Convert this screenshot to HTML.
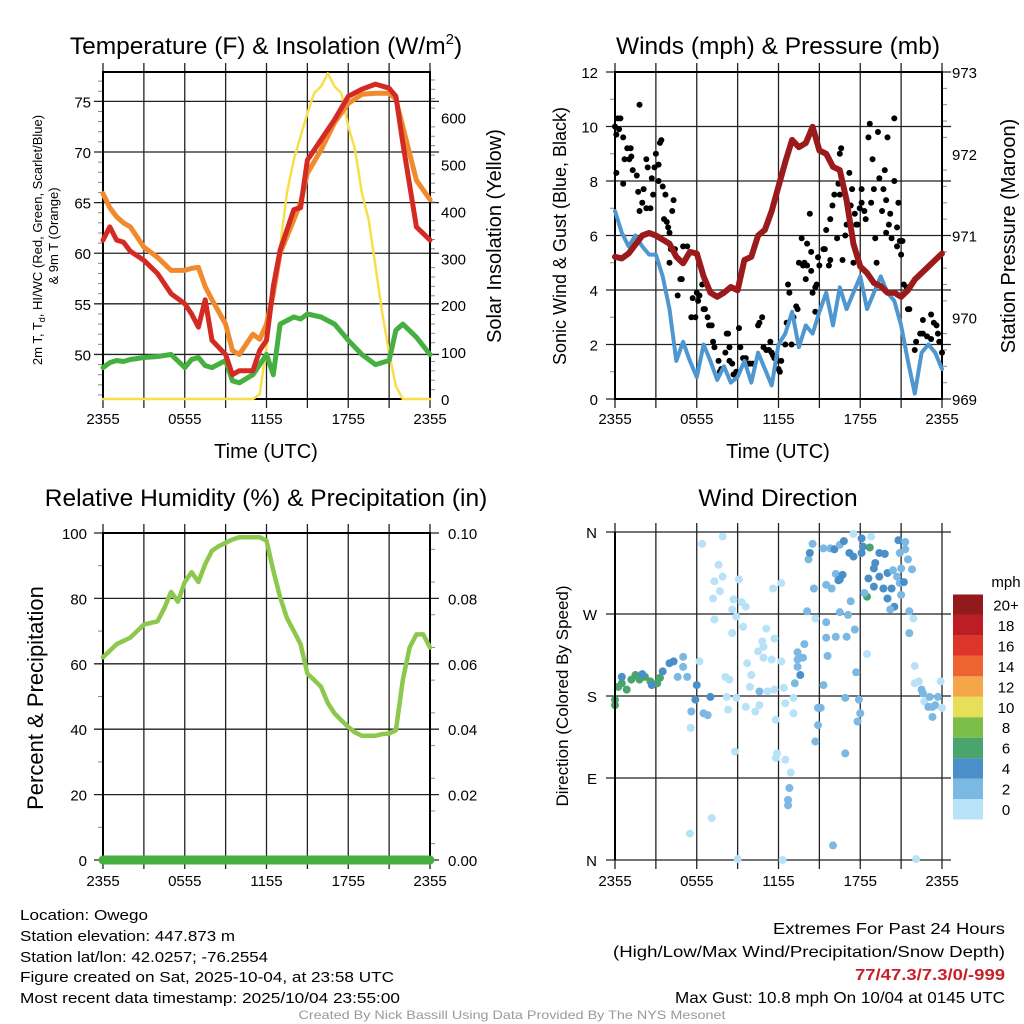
<!DOCTYPE html>
<html><head><meta charset="utf-8"><style>
html,body{margin:0;padding:0;background:#fff}
svg{display:block;font-family:"Liberation Sans",Arial,sans-serif}
</style></head><body>
<svg id="c" width="1024" height="1024" viewBox="0 0 1024 1024" xmlns="http://www.w3.org/2000/svg"></svg>
<script>
// ---------- DATA ----------
const xTickLabels = ["2355","0555","1155","1755","2355"];
const tHours = [0,0.5,1,1.5,2,3,4,5,6,6.5,7,7.5,8,9,9.5,10,11,11.5,12,12.5,13,14,14.5,15,16,17,18,19,20,21,21.5,22,23,24];
const tempRed = [61.3,62.6,61.3,61.1,60.2,59.3,58,56,55,54,52.7,55.4,51.4,50,48,48.4,48.4,50.4,51.4,56.7,60.3,64.3,64.5,69.2,71.2,73.2,75.5,76.2,76.7,76.3,75.5,70.9,62.6,61.3];
const tempOrange = [65.9,64.5,63.6,63,62.6,60.6,59.6,58.3,58.3,58.5,58.6,56.7,55.4,53,50.4,50,52,51.5,53,56,60,63.3,65,67.9,70.2,72.9,74.8,75.7,75.8,75.8,75.2,72.5,67.2,65.3];
const tempGreen = [48.7,49.2,49.4,49.3,49.5,49.7,49.8,50,48.7,49.5,49.7,48.9,48.7,49.4,47.4,47.2,48,49,50,48,53,53.7,53.5,54,53.7,53,51.4,50,49,49.4,52.4,53,51.7,50];
const solarHours = [0,11,11.5,12,12.5,13,13.5,14,14.5,15,15.5,16,16.5,17,17.5,18,18.5,19,19.5,20,20.5,21,21.5,22,24];
const solarVals = [0,0,10,112,226,325,439,510,560,609,652,666,694,666,652,581,531,439,382,283,183,98,27,0,0];
const windHours = [0,0.5,1,1.5,2,2.5,3,3.5,4,4.5,5,5.5,6,6.5,7,7.5,8,8.5,9,9.5,10,10.5,11,11.5,12,12.5,13,13.5,14,14.5,15,15.5,16,16.5,17,17.5,18,18.5,19,19.5,20,20.5,21,21.5,22,22.5,23,23.5,24];
const windVals = [6.9,6.1,5.6,6.0,5.6,5.3,5.3,4.5,3.3,1.4,2.1,1.4,0.8,2.0,1.4,0.7,1.2,0.6,0.8,1.4,0.6,1.7,1.1,0.5,2.0,2.4,3.2,1.9,2.7,2.4,3.2,3.9,2.7,4.1,3.3,3.9,4.5,3.3,3.9,4.5,3.9,3.6,2.7,1.4,0.2,1.7,2.0,1.7,1.1];
const gustH = [0,0.1,0.2,0.4,0.3,0.1,0.6,0.7,0.9,1.05,1.15,1.2,0.6,1.3,1.6,1.8,1.7,2,2.1,2.3,2.4,1.8,2.3,2.6,2.7,2.8,2.9,3,3.2,3.2,3.3,3.4,3.5,3.6,3.7,3.8,3.9,4,4.1,4.2,4.3,4.4,4,4.8,4.6,4.9,5,5.3,5.6,5.9,6,5.7,6.1,6.2,6.4,6.5,6.6,6.8,6.9,7.1,7.2,7.3,7.6,7.7,7.8,8.1,8.2,8.3,8.4,8.4,8.6,8.7,8.9,9.1,9.2,9.4,9.5,9.6,9.8,9.9,10.1,10.5,10.6,10.8,10.9,11.1,11.3,11.4,11.5,11.6,11.7,11.9,12,12.1,12.2,12.5,12.6,12.7,12.8,12.96,13.1,13.3,13.4,13.5,13.7,13.8,13.9,14.1,14,14.1,14.3,14.4,14.4,14.5,14.7,14.8,14.7,14.9,15,15.3,15.4,15.5,15.7,15.8,15.8,15.96,16.1,16.3,16.4,16.5,16.5,16.6,16.7,16.9,17,17.2,17.3,17.4,17.5,17.6,17.7,17.8,17.96,18.1,18.1,18.3,18.4,18.6,18.7,18.8,18.9,19,19.1,19.2,19.3,19.4,19.6,19.7,19.8,19.9,19.9,20,20.1,20.2,20.3,20.5,20.5,20.7,20.7,20.8,20.9,21,21.1,21.2,21.4,21.5,21.6,22,22.1,22.4,22.6,22.6,22.9,23.2,23.2,23.4,23.6,23.7,23.8,24];
const gustV = [10,9.7,10.3,10.3,9.9,8.3,9.6,8.8,9.2,8.8,9.2,8.9,7.9,8.4,8.2,10.8,7.6,7.2,7.7,8.8,8.5,6.9,7,7,8.1,7.5,8.5,9,8.6,8,9.4,9.5,7.8,6.6,7.5,6.5,6.3,6.1,5.5,6.9,7.3,5.5,5,4.4,3.8,4.4,5.6,5.6,3,3,3.9,3.7,3.6,3.8,4.2,3.3,3.3,3,2.7,2.7,2.1,1.9,1.4,1,1.1,1.7,2.4,2.4,1.9,1.4,1.3,0.9,1,2.6,1.9,1.5,1.3,1.5,1.3,1.3,1.3,2.7,2.8,3,1.9,1.8,1.8,2.1,1.7,1.6,1.5,1.4,1.1,1,1.4,2,2.8,4.2,3.9,2,3,3.4,3.3,5,5.9,4.9,5,5.7,4.4,4.9,6.8,5.4,4.7,3.9,4.1,4.2,3.2,5.2,4.9,5.5,5.5,6.2,4.9,6.6,5.1,7.1,7.5,5.9,7.9,7.5,9,9.2,5.1,6,6.4,8.3,7.1,7.7,5,6.8,6.4,6.4,7,7.7,7.2,6.9,6.6,9.6,10.1,7.2,8.8,7.7,5.9,5,9.8,8.1,6.9,7.7,8.4,7.3,6.1,9.6,6.4,6.8,5.9,8,10.3,5.6,6.3,7.2,5.8,5.3,5.8,4.2,4.1,3.3,3.3,1.8,2.1,2.4,2.9,2.4,2.3,3.1,2.2,2.8,2.7,2.4,2.1,1.7];
const presHours = [0,0.5,1,2,2.5,3,4,4.5,5,5.5,6,6.5,7,7.5,8,8.5,9,9.5,10,10.5,11,11.5,12,12.5,13,13.5,14,14.5,15,15.5,16,16.5,17,17.5,18,18.5,19,19.5,20,20.5,21,21.5,22,22.5,23,23.5,24];
const presVals = [970.74,970.72,970.78,971.0,971.03,971.0,970.9,970.74,970.66,970.8,970.78,970.5,970.3,970.25,970.3,970.37,970.33,970.7,970.74,971.0,971.07,971.3,971.6,971.9,972.17,972.08,972.13,972.33,972.04,972.0,971.84,971.8,971.43,970.9,970.62,970.54,970.42,970.38,970.3,970.3,970.25,970.33,970.46,970.54,970.62,970.7,970.78];
const rhHours = [0,0.5,1,2,3,4,4.5,5,5.5,6,6.5,7,7.5,8,8.5,9,9.5,10,11,11.5,12,12.5,13,13.5,14,14.5,15,15.5,16,16.5,17,17.5,18,18.5,19,20,20.5,21,21.5,22,22.5,23,23.5,24];
const rhVals = [62,64,66,68,72,73,77,82,79,85,88,85,90.5,94.6,96,97,98,98.7,98.7,98.7,97.7,88.5,80.4,74,70,66,57,55,53,48,44.8,42.7,40.7,39,38,38,38.5,38.7,39.7,55,65,69,69,65];
const precipHours = [0,24];
const precipVals = [0,0];
const dirH = [
 0,0,0.24,0.5,0.86,1.2,1.5,1.8,2.2,2.6,
 3.1,3.3,0.5,2.0,2.7,3.5,4.0,4.3,4.6,5.0,
 5.3,5.0,6.0,5.9,6.2,5.6,6.5,6.8,5.55,7.0,
 6.4,7.9,7.6,7.3,7.9,7.7,7.2,7.3,8.6,8.7,
 8.6,8.9,9.1,9.3,9.6,9.4,9.7,8.1,8.4,8.2,
 8.3,8.9,8.8,11.6,12.2,11.1,10.8,10.9,11.7,10.5,
 10.9,11.5,12.2,10.0,9.9,9.6,10.3,10.6,11.2,10.6,
 11.7,11.8,12.4,12.5,13.1,13.1,11.9,11.8,12.5,12.9,
 12.8,12.7,12.7,7.1,5.5,9.0,12.3,16.0,13.2,13.6,
 13.4,13.4,13.8,13.9,13.4,14.1,14.7,14.2,14.3,14.5,
 14.6,15.3,15.8,16.1,16.5,16.8,17.2,17.5,17.5,18.1,
 18.2,18.1,18.8,18.7,18.5,18.3,15.5,15.9,16.2,16.7,
 16.5,16.4,15.5,15.5,16.2,17.0,16.5,17.1,17.3,17.6,
 15.6,15.3,14.9,15.1,14.9,14.7,16.9,17.9,18.0,17.8,
 17.7,16.9,18.5,18.6,19.0,19.1,19.4,19.8,19.0,19.4,
 19.7,20.0,20.3,20.5,20.2,20.0,20.4,20.7,20.9,20.8,
 21.3,21.3,20.9,21.5,21.8,21.0,21.2,21.0,21.6,21.9,
 21.6,22.0,22.0,22.3,22.5,22.6,22.7,23.1,23.0,23.3,
 23.5,23.7,23.9,24.0,23.3,22.1];
const dirDeg = [
 170,176,190,194,187,198,203,198,201,196,
 194,200,201,204,192,207,216,218,201,223,
 201,212,192,176,218,163,161,159,145,179,
 347,355,324,306,311,295,287,264,249,286,
 275,267,308,283,278,256,216,201,198,179,
 165,178,119,298,304,254,240,234,243,229,
 222,220,218,203,190,168,163,170,185,185,
 187,154,189,172,161,178,117,112,110,96,
 79,66,60,46,29,1,0,16,194,203,
 220,228,222,237,212,273,265,330,337,347,
 298,342,342,341,346,350,337,333,358,353,
 344,337,355,343,289,293,302,298,314,313,
 308,307,261,244,245,245,272,269,284,253,
 224,192,167,167,148,130,178,176,161,152,
 206,117,226,309,320,326,337,336,300,311,
 298,287,298,278,275,315,318,311,304,351,
 349,341,337,330,319,320,305,291,273,265,
 249,213,194,196,187,183,174,179,168,168,
 170,179,196,167,157,1];
const dirSpd = [
 6,6,6,6,6,6,6,6,6,6,
 6,6,4,4,4,4,4,4,2,2,
 2,2,4,4,1,2,2,2,1,4,
 0,0,0,0,0,0,0,1,1,1,
 1,0,0,0,0,0,0,0,0,0,
 0,0,0,0,0,1,1,0,1,0,
 1,0,1,0,0,0,0,0,0,3,
 0,1,0,0,0,0,0,0,0,0,
 3,3,3,0,0,0,0,3,3,4,
 2,2,2,2,2,2,0,2,4,2,
 2,2,2,4,2,4,4,4,1,4,
 4,4,1,6,6,2,2,2,2,4,
 4,4,2,2,2,2,2,2,2,2,
 2,2,3,3,3,3,3,3,3,3,
 2,3,0,4,4,4,4,4,4,4,
 4,4,4,4,3,4,2,2,2,4,
 2,2,2,2,2,2,4,2,2,0,
 2,0,0,1,2,2,0,2,2,2,
 2,2,0,0,2,0];
const legendLabels = ["0","2","4","6","8","10","12","14","16","18","20+"];
const legendColors = ["#b8e2f8","#7cb8e4","#4a8fc7","#4aa56d","#7bbf4a","#e6df58","#f5a646","#ee6431","#dd3528","#bd1d24","#931a1c"];

// ---------- DRAW ----------
const NS="http://www.w3.org/2000/svg";
const svg=document.getElementById('c');
function mk(tag,attrs,parent){const e=document.createElementNS(NS,tag);for(const k in attrs)e.setAttribute(k,attrs[k]);(parent||svg).appendChild(e);return e;}
function txt(s,x,y,size,anchor,extra,parent){const e=mk('text',Object.assign({x:x,y:y,'font-size':size,'text-anchor':anchor||'middle',fill:'#000'},extra||{}),parent);e.textContent=s;return e;}
function scale(d0,d1,r0,r1){return v=>r0+(v-d0)/(d1-d0)*(r1-r0);}
function line(xs,ys,sx,sy,color,w,name){let d='';for(let i=0;i<xs.length;i++)d+=(i?'L':'M')+sx(xs[i]).toFixed(1)+','+sy(ys[i]).toFixed(1);const p=mk('path',{d:d,fill:'none',stroke:color,'stroke-width':w,'stroke-linejoin':'round','stroke-linecap':'round'});return p;}

function frame(P,name){
  const g=mk('g',{});
  for(let i=0;i<=8;i++){const x=P.x0+(P.x1-P.x0)*i/8;mk('line',{x1:x,y1:P.y0-9,x2:x,y2:P.y1+9,stroke:'#222','stroke-width':1.3},g);}
  return g;
}
function hgrid(P,vals,sy,g){vals.forEach(v=>{const y=sy(v);mk('line',{x1:P.x0-9,y1:y,x2:P.x1+9,y2:y,stroke:'#222','stroke-width':1.3},g);});}
function minor(P,vals,sy,g,side){vals.forEach(v=>{const y=sy(v);if(side!=='r')mk('line',{x1:P.x0-5,y1:y,x2:P.x0,y2:y,stroke:'#888','stroke-width':1},g);if(side!=='l')mk('line',{x1:P.x1,y1:y,x2:P.x1+5,y2:y,stroke:'#888','stroke-width':1},g);});}
function border(P,g){mk('rect',{x:P.x0,y:P.y0,width:P.x1-P.x0,height:P.y1-P.y0,fill:'none',stroke:'#000','stroke-width':2},g);}
function xlabels(P,sx,y,g){[0,6,12,18,24].forEach((h,i)=>{const t=txt(xTickLabels[i],sx(h),y,15,'middle',{},g);});}

// Panel 1: temperature
const P1={x0:103,x1:430,y0:72,y1:399};
const sx1=scale(0,24,P1.x0,P1.x1), sy1=scale(45.6,77.9,P1.y1,P1.y0), sy1r=scale(0,697,P1.y1,P1.y0);
const g1=frame(P1,'temperature-panel');
hgrid(P1,[50,55,60,65,70,75],sy1,g1);
minor(P1,[46,47,48,49,51,52,53,54,56,57,58,59,61,62,63,64,66,67,68,69,71,72,73,74,76,77],sy1,g1,'l');
minor(P1,[20,40,60,80,120,140,160,180,220,240,260,280,320,340,360,380,420,440,460,480,520,540,560,580,620,640,660,680],sy1r,g1,'r');
[50,55,60,65,70,75].forEach(v=>txt(String(v),91,sy1(v)+6,15,'end',{},g1));
[0,100,200,300,400,500,600].forEach(v=>txt(String(v),441,sy1r(v)+6,15,'start',{},g1));
line(solarHours,solarVals,sx1,sy1r,'#f7de4a',2.5,'solar-insolation-line');
line(tHours,tempGreen,sx1,sy1,'#45b040',5,'dewpoint-line');
line(tHours,tempOrange,sx1,sy1,'#f08a2c',5,'temp-9m-line');
line(tHours,tempRed,sx1,sy1,'#d42a24',5,'temp-2m-line');
border(P1,g1);
xlabels(P1,sx1,424,g1);
txt('Time (UTC)',266,458,20,'middle',{},g1);
const t1=mk('text',{x:266,y:54,'font-size':24.5,'text-anchor':'middle'});t1.innerHTML='Temperature (F) &amp; Insolation (W/m<tspan dy="-10" font-size="15">2</tspan><tspan dy="10">)</tspan>';

const yl1=mk('text',{transform:'translate(42,240) rotate(-90)','font-size':13,'text-anchor':'middle'});yl1.innerHTML='2m T, T<tspan dy="3" font-size="9">d</tspan><tspan dy="-3">, HI/WC (Red, Green, Scarlet/Blue)</tspan>';

txt('& 9m T (Orange)',0,0,13,'middle',{transform:'translate(58,236) rotate(-90)'});
txt('Solar Insolation (Yellow)',0,0,20,'middle',{transform:'translate(501,236) rotate(-90)'});

// Panel 2: winds
const P2={x0:615,x1:942,y0:72,y1:399};
const sx2=scale(0,24,P2.x0,P2.x1), sy2=scale(0,12,P2.y1,P2.y0), sy2r=scale(969,973,P2.y1,P2.y0);
const g2=frame(P2,'winds-panel');
hgrid(P2,[0,2,4,6,8,10,12],sy2,g2);
minor(P2,[1,3,5,7,9,11],sy2,g2,'l');
minor(P2,[969.2,969.4,969.6,969.8,970.2,970.4,970.6,970.8,971.2,971.4,971.6,971.8,972.2,972.4,972.6,972.8],sy2r,g2,'r');
[0,2,4,6,8,10,12].forEach(v=>txt(String(v),598,sy2(v)+6,15,'end',{},g2));
[969,970,971,972,973].forEach(v=>txt(String(v),952,sy2r(v)+6,15,'start',{},g2));
line(windHours,windVals,sx2,sy2,'#4f97d1',4,'sonic-wind-line');
gustH.forEach((h,i)=>{const c=mk('circle',{cx:sx2(h),cy:sy2(gustV[i]),r:3,fill:'#000'},g2);});
line(presHours,presVals,sx2,sy2r,'#9b1a1c',6,'pressure-line');
border(P2,g2);
xlabels(P2,sx2,424,g2);
txt('Time (UTC)',778,458,20,'middle',{},g2);
txt('Winds (mph) & Pressure (mb)',778,54,24.5,'middle');
txt('Sonic Wind & Gust (Blue, Black)',0,0,18,'middle',{transform:'translate(566,236) rotate(-90)'});
txt('Station Pressure (Maroon)',0,0,20,'middle',{transform:'translate(1015,236) rotate(-90)'});

// Panel 3: RH
const P3={x0:103,x1:430,y0:533,y1:860};
const sx3=scale(0,24,P3.x0,P3.x1), sy3=scale(0,100,P3.y1,P3.y0), sy3r=scale(0,0.1,P3.y1,P3.y0);
const g3=frame(P3,'humidity-panel');
hgrid(P3,[0,20,40,60,80,100],sy3,g3);
minor(P3,[10,30,50,70,90],sy3,g3,'l');
minor(P3,[0.005,0.015,0.025,0.035,0.045,0.055,0.065,0.075,0.085,0.095],sy3r,g3,'r');
[0,20,40,60,80,100].forEach(v=>txt(String(v),87,sy3(v)+6,15,'end',{},g3));
[0,0.02,0.04,0.06,0.08,0.1].forEach(v=>txt(v.toFixed(2),448,sy3r(v)+6,15,'start',{},g3));
line(rhHours,rhVals,sx3,sy3,'#8cc84b',4.5,'rh-line');
line(precipHours,precipVals,sx3,sy3r,'#45b040',9,'precip-line');
border(P3,g3);
xlabels(P3,sx3,886,g3);
txt('Relative Humidity (%) & Precipitation (in)',266,506,24.5,'middle');
txt('Percent & Precipitation',0,0,22,'middle',{transform:'translate(43,698) rotate(-90)'});

// Panel 4: wind direction
const P4={x0:615,x1:942,y0:532,y1:860};
const sx4=scale(0,24,P4.x0,P4.x1), sy4=scale(0,360,P4.y1,P4.y0);
const g4=frame(P4,'wind-direction-panel');
hgrid(P4,[0,90,180,270,360],sy4,g4);
[['N',0],['E',90],['S',180],['W',270],['N',360]].forEach(a=>txt(a[0],597,sy4(a[1])+6,15,'end',{},g4));
function spdColor(s){let i=Math.floor((s||0)/2);if(i>10)i=10;return legendColors[i];}
dirH.forEach((h,i)=>{const c=mk('circle',{cx:sx4(h),cy:sy4(dirDeg[i]),r:4,fill:spdColor(dirSpd[i])},g4);});
mk('line',{x1:P4.x0,y1:P4.y0,x2:P4.x0,y2:P4.y1,stroke:'#000','stroke-width':2},g4);
xlabels(P4,sx4,886,g4);
txt('Wind Direction',778,506,24.5,'middle');
txt('Direction (Colored By Speed)',0,0,17,'middle',{transform:'translate(568,696) rotate(-90)'});
const lg=mk('g',{});
txt('mph',1006,587,15,'middle',{},lg);
legendLabels.forEach((l,i)=>{const y=799-i*20.45;mk('rect',{x:953,y:y,width:30,height:20.45,fill:legendColors[i]},lg);txt(l,1006,y+16,15,'middle',{},lg);});

// Footer
const ft=mk('g',{});
[['Location: Owego',920,128],['Station elevation: 447.873 m',941,215],['Station lat/lon: 42.0257; -76.2554',962,248],['Figure created on Sat, 2025-10-04, at 23:58 UTC',982,374],['Most recent data timestamp: 2025/10/04 23:55:00',1003,380]].forEach(a=>txt(a[0],20,a[1],15,'start',{textLength:a[2],lengthAdjust:'spacingAndGlyphs'},ft));
const fr=mk('g',{});
txt('Extremes For Past 24 Hours',1005,934,16,'end',{textLength:232,lengthAdjust:'spacingAndGlyphs'},fr);
txt('(High/Low/Max Wind/Precipitation/Snow Depth)',1005,957,16,'end',{textLength:392,lengthAdjust:'spacingAndGlyphs'},fr);
txt('77/47.3/7.3/0/-999',1005,980,16,'end',{fill:'#c8202a','font-weight':'bold',textLength:150,lengthAdjust:'spacingAndGlyphs'},fr);
txt('Max Gust: 10.8 mph On 10/04 at 0145 UTC',1005,1003,16,'end',{textLength:330,lengthAdjust:'spacingAndGlyphs'},fr);
txt('Created By Nick Bassill Using Data Provided By The NYS Mesonet',512,1019,12,'middle',{fill:'#999',textLength:427,lengthAdjust:'spacingAndGlyphs'});
</script>
</body></html>
